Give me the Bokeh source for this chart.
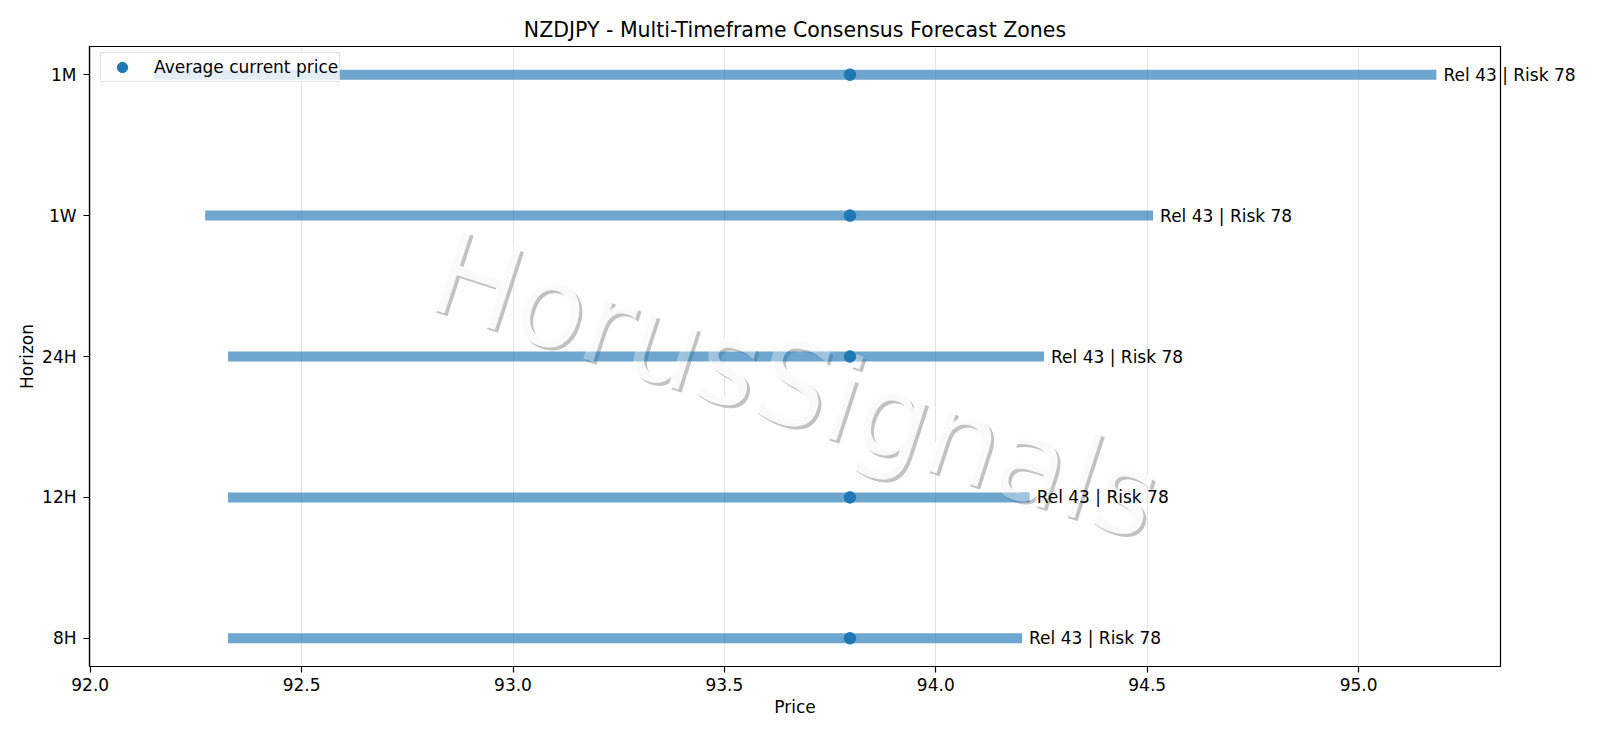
import numpy as np

from bokeh.plotting import figure
from bokeh.models import (ColumnDataSource, Range1d, FixedTicker, PrintfTickFormatter,
                          Label, LinearAxis)
from bokeh.core.properties import value
from bokeh.embed import file_html
from bokeh.resources import INLINE

# consensus forecast zones per horizon
horizons = ["8H", "12H", "24H", "1W", "1M"]
zone_low = [92.326, 92.326, 92.326, 92.272, 92.150]
zone_high = [94.204, 94.222, 94.256, 94.514, 95.184]
avg_price = [93.797, 93.797, 93.797, 93.797, 93.797]
reliability = [43, 43, 43, 43, 43]
risk = [78, 78, 78, 78, 78]
price_ticks = [92.0, 92.5, 93.0, 93.5, 94.0, 94.5, 95.0]

TITLE = "NZDJPY - Multi-Timeframe Consensus Forecast Zones"
WATERMARK = "HorusSignals"
FONT = "DejaVu Sans"
BLUE = "#1f77b4"
FS = "17px"

ypos = list(range(len(horizons)))
notes = ["Rel %d | Risk %d" % (r, k) for r, k in zip(reliability, risk)]
src = ColumnDataSource(dict(y=ypos, lo=zone_low, hi=zone_high, avg=avg_price))

# 5% margins like matplotlib
lo, hi = min(zone_low), max(zone_high)
xpad = 0.05 * (hi - lo)
ypad = 0.05 * (len(horizons) - 1)
x_range = Range1d(lo - xpad, hi + xpad)
y_range = Range1d(-ypad, len(horizons) - 1 + ypad)

W, H = 1584, 730
BL, BR, BT, BB = 89, 84, 46, 64
p = figure(width=W, height=H, x_range=x_range, y_range=y_range,
           output_backend="svg", toolbar_location=None, tools="",
           min_border_left=BL, min_border_right=BR, min_border_top=BT, min_border_bottom=BB,
           background_fill_color="white", border_fill_color="white")

# watermark: grey shadow, white letters underneath the bars
wm_x = (x_range.start + x_range.end) / 2
wm_y = 1.8
ang = np.deg2rad(-18)
wm = dict(text_font=value(FONT), text_font_size="116px",
          text_align="center", text_baseline="middle")
p.text(x=[wm_x], y=[wm_y], text=[WATERMARK], angle=ang, x_offset=3, y_offset=3,
       text_color="#c2c2c2", **wm)
p.text(x=[wm_x], y=[wm_y], text=[WATERMARK], angle=ang, text_color="white",
       text_alpha=0.88, **wm)

p.segment(x0="lo", y0="y", x1="hi", y1="y", source=src,
          line_width=10, line_color=BLUE, line_alpha=0.65)

# lighten bars where the letters cross
p.text(x=[wm_x], y=[wm_y], text=[WATERMARK], angle=ang, text_color="white",
       text_alpha=0.35, **wm)

p.scatter(x="avg", y="y", source=src, size=11.5, color=BLUE,
          legend_label="Average current price")

# reliability / risk notes; the frame clips annotations, so a note that
# runs past the right spine goes on a bare right axis instead
frame_w = W - BL - BR
ppu = frame_w / (x_range.end - x_range.start)
spill = {}
for yy, xx, note in zip(ypos, zone_high, notes):
    left_px = (xx - x_range.start) * ppu + 7
    if left_px + 135 > frame_w:
        spill[yy] = (note, int(round(left_px - frame_w)))
        continue
    p.add_layout(Label(x=xx, y=yy, text=note, x_offset=7,
                       text_baseline="middle", text_font=FONT,
                       text_font_size=FS, text_color="black"))

if spill:
    ra = LinearAxis(ticker=FixedTicker(ticks=list(spill)),
                    major_label_overrides={k: v[0] for k, v in spill.items()})
    ra.major_label_standoff = min(v[1] for v in spill.values())
    ra.axis_line_color = None
    ra.major_tick_line_color = None
    ra.minor_tick_line_color = None
    ra.major_tick_out = 0
    ra.major_tick_in = 0
    ra.major_label_text_font = FONT
    ra.major_label_text_font_size = FS
    ra.major_label_text_color = "black"
    p.add_layout(ra, "right")

# title / axes
p.title.text = TITLE
p.title.text_font = FONT
p.title.text_font_size = "20.5px"
p.title.text_font_style = "normal"
p.title.text_color = "black"
p.title.align = "center"
p.title.standoff = 10

p.xaxis[0].axis_label = "Price"
p.yaxis[0].axis_label = "Horizon"
p.xaxis[0].ticker = FixedTicker(ticks=price_ticks)
p.xaxis[0].formatter = PrintfTickFormatter(format="%.1f")
p.yaxis[0].ticker = FixedTicker(ticks=ypos)
p.yaxis[0].major_label_overrides = {i: h for i, h in enumerate(horizons)}

for ax in (p.xaxis[0], p.yaxis[0]):
    ax.axis_label_text_font = FONT
    ax.axis_label_text_font_size = FS
    ax.axis_label_text_font_style = "normal"
    ax.axis_label_text_color = "black"
    ax.major_label_text_font = FONT
    ax.major_label_text_font_size = FS
    ax.major_label_text_color = "black"
    ax.axis_line_color = "black"
    ax.axis_line_width = 1.2
    ax.major_tick_line_color = "black"
    ax.major_tick_line_width = 1.2
    ax.major_tick_out = 6
    ax.major_tick_in = 0
    ax.minor_tick_line_color = None
p.xaxis[0].axis_label_standoff = 3
p.yaxis[0].axis_label_standoff = 2
p.xaxis[0].major_label_standoff = 5
p.yaxis[0].major_label_standoff = 7

p.outline_line_color = "black"
p.outline_line_width = 1.2
p.outline_line_alpha = 1

p.ygrid.grid_line_color = None
p.xgrid.ticker = FixedTicker(ticks=price_ticks)
p.xgrid.grid_line_color = "#b0b0b0"
p.xgrid.grid_line_alpha = 0.35

# legend upper left
lg = p.legend[0]
lg.location = (11, 584)
lg.margin = 0
lg.padding = 1
lg.glyph_width = 40
lg.glyph_height = 26
lg.label_height = 26
lg.label_standoff = 12
lg.label_text_font = FONT
lg.label_text_font_size = FS
lg.label_text_color = "black"
lg.border_line_color = "#cccccc"
lg.border_line_width = 1
lg.background_fill_color = "white"
lg.background_fill_alpha = 0.8

open("out.html", "w").write(file_html(p, INLINE))
